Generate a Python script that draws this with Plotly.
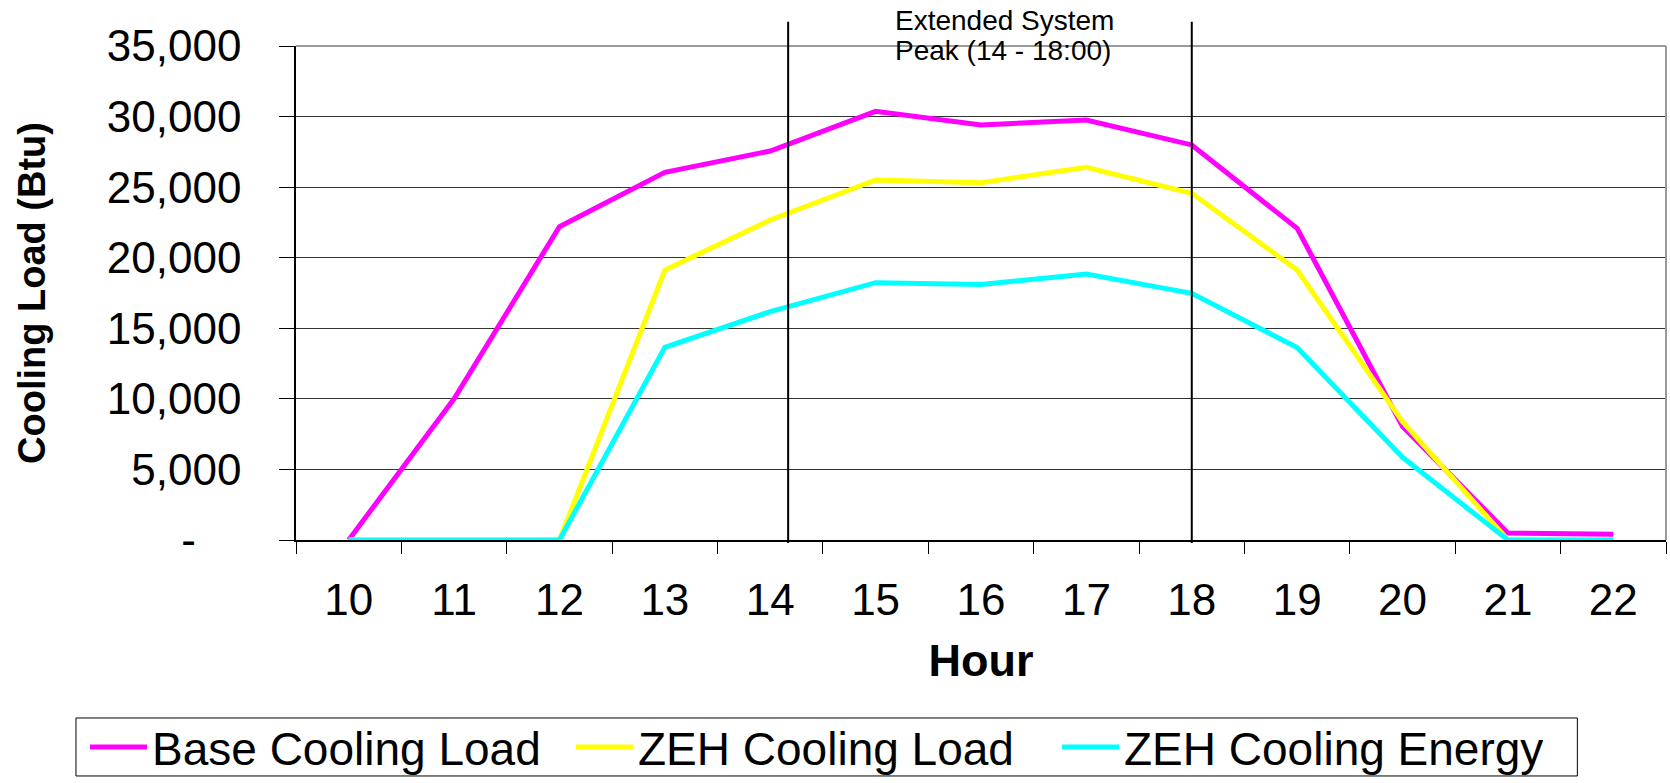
import plotly.graph_objects as go

# ---- data ----
hours = ["10", "11", "12", "13", "14", "15", "16", "17", "18", "19", "20", "21", "22"]
base_cooling_load = [0, 10000, 22200, 26050, 27560, 30370, 29400, 29760, 27990, 22080, 8050, 500, 400]
zeh_cooling_load = [0, 0, 0, 19130, 22670, 25510, 25320, 26400, 24560, 19130, 8380, 0, 0]
zeh_cooling_energy = [0, 0, 0, 13650, 16180, 18230, 18110, 18850, 17480, 13630, 5860, 0, 0]
y_tick_vals = [0, 5000, 10000, 15000, 20000, 25000, 30000, 35000]
y_tick_text = ["-\u00a0\u00a0\u00a0\u2009", "5,000", "10,000", "15,000", "20,000", "25,000", "30,000", "35,000"]
peak_hours = [14, 18]
peak_line_offsets = [0.17, 0.0]
peak_label_lines = ["Extended System", "Peak (14 - 18:00)"]

FONT = "Liberation Sans, Arial, sans-serif"

fig = go.Figure()
series = [
    ("Base Cooling Load", base_cooling_load, "#FF00FF"),
    ("ZEH Cooling Load", zeh_cooling_load, "#FFFF00"),
    ("ZEH Cooling Energy", zeh_cooling_energy, "#00FFFF"),
]
for name, vals, col in series:
    fig.add_trace(go.Scatter(x=hours, y=vals, mode="lines", name=name,
                             line=dict(color=col, width=5)))

# plot-area border (top and right, grey)
fig.add_shape(type="line", xref="paper", yref="paper", x0=0, x1=1, y0=1, y1=1,
              line=dict(color="#9a9a9a", width=2), layer="above")
fig.add_shape(type="line", xref="paper", yref="paper", x0=1, x1=1, y0=0, y1=1,
              line=dict(color="#9a9a9a", width=2), layer="above")

# legend frame
fig.add_shape(type="rect", xref="paper", yref="paper", x0=-0.1606, x1=0.9353,
              y0=-0.4777, y1=-0.3603, line=dict(color="black", width=1),
              fillcolor="rgba(0,0,0,0)", layer="above")

# peak period lines
for h, off in zip(peak_hours, peak_line_offsets):
    xi = hours.index(str(h)) + off
    fig.add_shape(type="line", xref="x", yref="paper", x0=xi, x1=xi, y0=-0.006, y1=1.049,
                  line=dict(color="black", width=2), layer="above")

for txt, yp in zip(peak_label_lines, [1.0516, 0.9899]):
    fig.add_annotation(text=txt, xref="paper", yref="paper", x=0.436, y=yp,
                       xanchor="left", yanchor="middle", align="left", showarrow=False,
                       font=dict(family=FONT, size=28, color="black"))

fig.update_layout(
    width=1670, height=783,
    margin=dict(l=296, r=4, t=46, b=243, autoexpand=False),
    paper_bgcolor="white", plot_bgcolor="white",
    font=dict(family=FONT, color="black"),
    showlegend=True,
    legend=dict(orientation="h", x=-0.154, y=-0.419, xanchor="left", yanchor="middle",
                borderwidth=0, bgcolor="rgba(0,0,0,0)",
                font=dict(family=FONT, size=46, color="black"),
                itemwidth=57, entrywidth=414, entrywidthmode="pixels"),
    xaxis=dict(type="category", range=[-0.5, 12.5], showgrid=False,
               showline=True, linecolor="black", linewidth=1.5,
               ticks="outside", tickson="boundaries", ticklen=12, tickcolor="black",
               tickfont=dict(family=FONT, size=44, color="black"),
               ticklabelstandoff=20,
               title=dict(text="<b>Hour</b>", font=dict(family=FONT, size=45, color="black"),
                          standoff=22)),
    yaxis=dict(range=[0, 35000], tickvals=y_tick_vals, ticktext=y_tick_text,
               showgrid=True, gridcolor="#333333", gridwidth=1, zeroline=False,
               showline=True, linecolor="black", linewidth=1.5,
               ticks="outside", ticklen=15, tickcolor="black",
               tickfont=dict(family=FONT, size=44, color="black"),
               ticklabelstandoff=29,
               title=dict(text="<b>Cooling Load (Btu)</b>",
                          font=dict(family=FONT, size=38, color="black"),
                          standoff=50)),
)

fig.write_html("out.html", config={"displayModeBar": False},
               post_script="document.body.style.margin='0';document.body.style.overflow='hidden';")
